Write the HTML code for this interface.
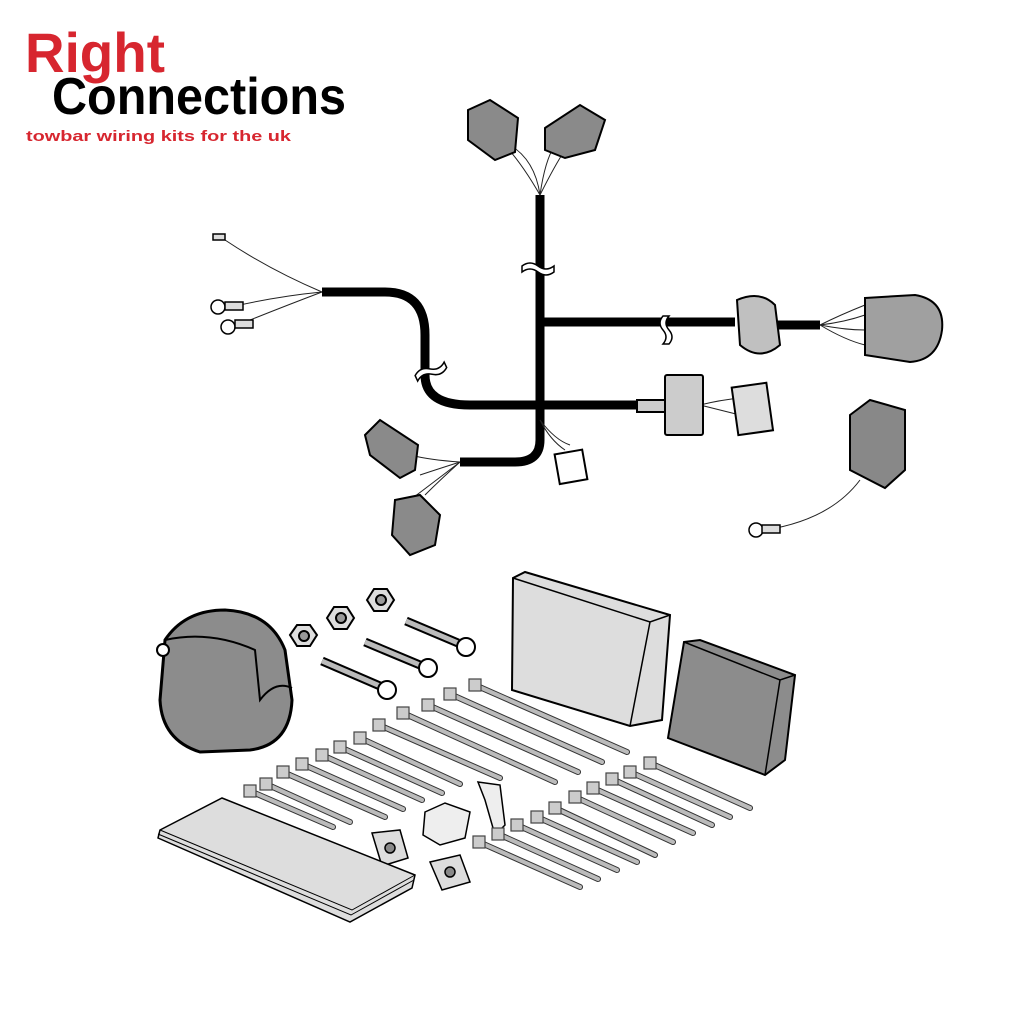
<!DOCTYPE html>
<html><head><meta charset="utf-8"><style>
html,body{margin:0;padding:0;background:#fff;}
svg{display:block;}
</style></head><body>
<svg width="1024" height="1024" viewBox="0 0 1024 1024" xmlns="http://www.w3.org/2000/svg">
<!-- Logo -->
<text x="25" y="72" font-family="Liberation Sans, sans-serif" font-weight="bold" font-size="56" fill="#d7262f" textLength="140" lengthAdjust="spacingAndGlyphs">Right</text>
<text x="52" y="114" font-family="Liberation Sans, sans-serif" font-weight="bold" font-size="52" fill="#000" textLength="294" lengthAdjust="spacingAndGlyphs">Connections</text>
<text x="26" y="141" font-family="Liberation Sans, sans-serif" font-weight="bold" font-size="15" fill="#d7262f" textLength="265" lengthAdjust="spacingAndGlyphs">towbar wiring kits for the uk</text>

<g fill="none" stroke="#000" stroke-width="9" stroke-linecap="butt">
<path d="M540 195 V440 Q540 462 515 462 H460"/>
<path d="M540 322 H735"/>
<path d="M322 292 H385 Q425 292 425 335 V375 Q425 405 470 405 H640"/>
<path d="M775 325 H820"/>
</g>
<g stroke="#000" stroke-width="1.5" fill="#fff">
<path d="M522 272 q8 -6 16 0 q8 6 16 0 v-6 q-8 6 -16 0 q-8 -6 -16 0z"/>
<path d="M663 316 q-6 7 0 14 q6 7 0 14 h6 q6 -7 0 -14 q-6 -7 0 -14z"/>
<path d="M415 375 q8 -6 16 0 q8 6 16 0 v-6 q-8 6 -16 0 q-8 -6 -16 0z" transform="rotate(-25 430 372)"/>
</g>
<g fill="none" stroke="#222" stroke-width="1">
<path d="M322 292 Q270 270 225 240"/>
<path d="M322 292 Q280 296 235 306"/>
<path d="M322 292 Q285 306 245 322"/>
<path d="M540 195 Q520 160 500 140"/><path d="M540 195 Q535 160 510 145"/>
<path d="M540 195 Q545 160 555 145"/><path d="M540 195 Q555 165 565 150"/>
<path d="M460 462 Q430 460 410 455"/><path d="M460 462 Q435 470 420 475"/>
<path d="M460 462 Q440 480 425 495"/><path d="M460 462 Q430 485 410 500"/>
<path d="M540 420 Q550 440 565 450"/><path d="M540 420 Q555 440 570 445"/>
<path d="M820 325 Q840 315 865 305"/><path d="M820 325 Q845 322 865 315"/><path d="M820 325 Q845 330 865 330"/><path d="M820 325 Q845 340 865 345"/>
<path d="M700 405 Q720 400 740 398"/><path d="M700 405 Q720 410 740 415"/>
<path d="M765 530 Q830 520 860 480"/>
</g>
<g stroke="#000" stroke-width="1.5" fill="#ddd">
<circle cx="218" cy="307" r="7" fill="#fff"/><rect x="225" y="302" width="18" height="8"/>
<circle cx="228" cy="327" r="7" fill="#fff"/><rect x="235" y="320" width="18" height="8"/>
<circle cx="756" cy="530" r="7" fill="#fff"/><rect x="762" y="525" width="18" height="8"/>
<rect x="213" y="234" width="12" height="6"/>
</g>
<g stroke="#000" stroke-width="2" fill="#8a8a8a">
<path d="M468 110 L490 100 L518 118 L515 152 L495 160 L468 140Z"/>
<path d="M545 128 L580 105 L605 120 L595 150 L565 158 L545 150Z"/>
<path d="M365 435 L380 420 L418 445 L415 470 L400 478 L370 455Z"/>
<path d="M395 500 L420 495 L440 515 L435 545 L410 555 L392 535Z"/>
<rect x="557" y="452" width="28" height="30" fill="#fff" transform="rotate(-10 570 467)"/>
<path d="M737 300 Q760 290 775 305 L780 345 Q760 362 740 345Z" fill="#c0c0c0"/>
<path d="M865 298 L915 295 Q945 300 942 330 Q938 360 910 362 L865 355Z" fill="#a0a0a0"/>
<path d="M850 415 L870 400 L905 410 L905 470 L885 488 L850 470Z" fill="#888"/>
<rect x="665" y="375" width="38" height="60" rx="2" fill="#ccc"/>
<path d="M637 400 H665 V412 H637Z" fill="#ccc"/>
<rect x="735" y="385" width="35" height="48" fill="#ddd" transform="rotate(-8 752 410)"/>
</g>

<!-- Socket -->
<path d="M165 640 Q185 610 225 610 Q270 612 285 650 L292 700 Q290 745 250 750 L200 752 Q162 740 160 700Z" fill="#8c8c8c" stroke="#000" stroke-width="3"/>
<path d="M165 640 Q210 630 255 650 L260 700 Q275 680 292 688" fill="none" stroke="#000" stroke-width="2"/>
<circle cx="163" cy="650" r="6" fill="#fff" stroke="#000" stroke-width="2"/>
<g fill="#ddd" stroke="#000" stroke-width="2">
<polygon points="290,635 297,625 310,625 317,635 310,646 297,646"/><circle cx="304" cy="636" r="5" fill="#999"/>
<polygon points="327,618 334,607 347,607 354,618 347,629 334,629"/><circle cx="341" cy="618" r="5" fill="#999"/>
<polygon points="367,600 374,589 387,589 394,600 387,611 374,611"/><circle cx="381" cy="600" r="5" fill="#999"/>
</g>
<g stroke="#000" stroke-width="2">
<line x1="322" y1="661" x2="380" y2="686" stroke-width="9"/><line x1="322" y1="661" x2="380" y2="686" stroke="#bbb" stroke-width="5"/>
<circle cx="387" cy="690" r="9" fill="#fff"/>
<line x1="365" y1="642" x2="420" y2="665" stroke-width="9"/><line x1="365" y1="642" x2="420" y2="665" stroke="#bbb" stroke-width="5"/>
<circle cx="428" cy="668" r="9" fill="#fff"/>
<line x1="406" y1="621" x2="458" y2="643" stroke-width="9"/><line x1="406" y1="621" x2="458" y2="643" stroke="#bbb" stroke-width="5"/>
<circle cx="466" cy="647" r="9" fill="#fff"/>
</g>
<!-- module boxes -->
<path d="M513 578 L525 572 L670 615 L662 720 L630 726 L512 690Z" fill="#ddd" stroke="#000" stroke-width="2"/>
<path d="M513 578 L650 622 L670 615 M650 622 L630 726" fill="none" stroke="#000" stroke-width="1.5"/>
<path d="M684 642 L700 640 L795 675 L785 760 L765 775 L668 738Z" fill="#8c8c8c" stroke="#000" stroke-width="2"/>
<path d="M684 642 L780 680 L795 675 M780 680 L765 775" fill="none" stroke="#000" stroke-width="1.5"/>
<!-- fuse, block -->
<path d="M478 782 L500 785 L505 825 L495 835 L485 800Z" fill="#eee" stroke="#000" stroke-width="1.5"/>
<path d="M425 812 L445 803 L470 812 L465 838 L440 845 L423 835Z" fill="#eee" stroke="#000" stroke-width="1.5"/>
<g fill="#ddd" stroke="#000" stroke-width="1.5">
<path d="M372 833 L400 830 L408 858 L382 866Z"/><circle cx="390" cy="848" r="5" fill="#888"/>
<path d="M430 862 L460 855 L470 882 L442 890Z"/><circle cx="450" cy="872" r="5" fill="#888"/>
</g>
<!-- instruction pack -->
<path d="M160 830 L222 798 L415 875 L412 888 L350 922 L158 838Z" fill="#ddd" stroke="#000" stroke-width="1.5"/>
<path d="M160 830 L352 910 L415 875 M158 834 L351 915 L414 880" fill="none" stroke="#000" stroke-width="1"/>

<!-- cable ties -->
<g stroke="#333" stroke-width="6" stroke-linecap="round">
<line x1="250" y1="791" x2="333" y2="827"/>
<line x1="266" y1="784" x2="350" y2="822"/>
<line x1="283" y1="772" x2="385" y2="817"/>
<line x1="302" y1="764" x2="403" y2="809"/>
<line x1="322" y1="755" x2="422" y2="800"/>
<line x1="340" y1="747" x2="442" y2="793"/>
<line x1="360" y1="738" x2="460" y2="784"/>
<line x1="379" y1="725" x2="500" y2="778"/>
<line x1="403" y1="713" x2="555" y2="782"/>
<line x1="428" y1="705" x2="578" y2="772"/>
<line x1="450" y1="694" x2="602" y2="762"/>
<line x1="475" y1="685" x2="627" y2="752"/>
<line x1="479" y1="842" x2="580" y2="887"/>
<line x1="498" y1="834" x2="598" y2="879"/>
<line x1="517" y1="825" x2="617" y2="870"/>
<line x1="537" y1="817" x2="637" y2="862"/>
<line x1="555" y1="808" x2="655" y2="855"/>
<line x1="575" y1="797" x2="673" y2="842"/>
<line x1="593" y1="788" x2="693" y2="833"/>
<line x1="612" y1="779" x2="712" y2="825"/>
<line x1="630" y1="772" x2="730" y2="817"/>
<line x1="650" y1="763" x2="750" y2="808"/>
</g>
<g stroke="#bbb" stroke-width="4" stroke-linecap="round">
<line x1="250" y1="791" x2="333" y2="827"/><line x1="266" y1="784" x2="350" y2="822"/><line x1="283" y1="772" x2="385" y2="817"/><line x1="302" y1="764" x2="403" y2="809"/><line x1="322" y1="755" x2="422" y2="800"/><line x1="340" y1="747" x2="442" y2="793"/><line x1="360" y1="738" x2="460" y2="784"/><line x1="379" y1="725" x2="500" y2="778"/><line x1="403" y1="713" x2="555" y2="782"/><line x1="428" y1="705" x2="578" y2="772"/><line x1="450" y1="694" x2="602" y2="762"/><line x1="475" y1="685" x2="627" y2="752"/>
<line x1="479" y1="842" x2="580" y2="887"/><line x1="498" y1="834" x2="598" y2="879"/><line x1="517" y1="825" x2="617" y2="870"/><line x1="537" y1="817" x2="637" y2="862"/><line x1="555" y1="808" x2="655" y2="855"/><line x1="575" y1="797" x2="673" y2="842"/><line x1="593" y1="788" x2="693" y2="833"/><line x1="612" y1="779" x2="712" y2="825"/><line x1="630" y1="772" x2="730" y2="817"/><line x1="650" y1="763" x2="750" y2="808"/>
</g>
<g fill="#ccc" stroke="#444" stroke-width="1.2">
<rect x="244" y="785" width="12" height="12"/><rect x="260" y="778" width="12" height="12"/><rect x="277" y="766" width="12" height="12"/><rect x="296" y="758" width="12" height="12"/><rect x="316" y="749" width="12" height="12"/><rect x="334" y="741" width="12" height="12"/><rect x="354" y="732" width="12" height="12"/><rect x="373" y="719" width="12" height="12"/><rect x="397" y="707" width="12" height="12"/><rect x="422" y="699" width="12" height="12"/><rect x="444" y="688" width="12" height="12"/><rect x="469" y="679" width="12" height="12"/>
<rect x="473" y="836" width="12" height="12"/><rect x="492" y="828" width="12" height="12"/><rect x="511" y="819" width="12" height="12"/><rect x="531" y="811" width="12" height="12"/><rect x="549" y="802" width="12" height="12"/><rect x="569" y="791" width="12" height="12"/><rect x="587" y="782" width="12" height="12"/><rect x="606" y="773" width="12" height="12"/><rect x="624" y="766" width="12" height="12"/><rect x="644" y="757" width="12" height="12"/>
</g>
</svg>
</body></html>
